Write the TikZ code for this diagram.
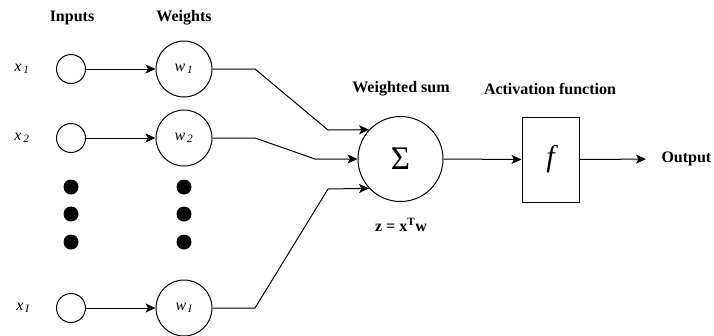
\documentclass[tikz,border=0pt]{standalone}
\usepackage{fontspec}
\setmainfont{Liberation Serif}
\usetikzlibrary{arrows.meta}
\begin{document}
\begin{tikzpicture}[x=1pt,y=1pt,
  line width=1pt,
  arr/.style={-{Stealth[length=10pt,width=9pt,inset=2.5pt]}},
  incirc/.style={circle,draw,minimum size=29pt,inner sep=0pt},
  wcirc/.style={circle,draw,minimum size=56pt,inner sep=0pt,font=\fontsize{16}{18}\selectfont\itshape},
  dotn/.style={circle,fill,minimum size=15pt,inner sep=0pt},
  head/.style={font=\fontsize{16}{18}\selectfont\bfseries,inner sep=0pt},
  xlab/.style={font=\fontsize{16}{18}\selectfont\itshape,inner sep=0pt}]
\useasboundingbox (0,0) rectangle (714,-335);
% headers
\node[head] (hin) at (72,-18) {Inputs};
\node[head] (hw) at (184,-18) {Weights};
\node[head] (hsum) at (401,-89) {Weighted sum};
\node[head] (hact) at (550,-89) {Activation function};
% input labels
\node[xlab] (l1) at (22,-69) {x\textsubscript{\,1}};
\node[xlab] (l2) at (22,-138) {x\textsubscript{\,2}};
\node[xlab] (lI) at (23,-308) {x\textsubscript{\,I}};
% inputs
\node[incirc] (in1) at (71,-69) {};
\node[incirc] (in2) at (71,-138) {};
\node[incirc] (inI) at (71,-308) {};
% weights
\node[wcirc] (w1) at (184,-69) {w\textsubscript{\,1}};
\node[wcirc] (w2) at (184,-138) {w\textsubscript{\,2}};
\node[wcirc] (wI) at (184,-308) {w\textsubscript{\,I}};
% dots
\node[dotn] (d1) at (71,-187) {};
\node[dotn] (d2) at (71,-214) {};
\node[dotn] (d3) at (71,-242) {};
\node[dotn] (e1) at (184,-187) {};
\node[dotn] (e2) at (184,-214) {};
\node[dotn] (e3) at (184,-242) {};
% sum
\node[circle,draw,minimum size=85pt,inner sep=0pt,font=\fontsize{33}{35}\selectfont] (sum) at (400.5,-159) {Σ};
\node[head] (zeq) at (401,-225) {z = x\textsuperscript{T}w};
% activation
\node[draw,minimum width=57pt,minimum height=85pt,inner sep=0pt,font=\fontsize{30}{32}\selectfont\itshape] (f) at (550.5,-159.5) {f};
\node[head,anchor=west] (out) at (661,-159) {Output};
% connectors
\draw[arr] (in1) -- (w1);
\draw[arr] (in2) -- (w2);
\draw[arr] (inI) -- (wI);
\coordinate (b1) at (255,-69);
\coordinate (c1) at (328,-130);
\coordinate (b2) at (255,-138);
\coordinate (c2) at (315,-159);
\coordinate (bI) at (255,-308);
\coordinate (cI) at (328,-189);
\draw[arr] (w1.east) -- (b1) -- (c1) -- (sum.137);
\draw[arr] (w2.east) -- (b2) -- (c2) -- (sum.west);
\draw[arr] (wI.east) -- (bI) -- (cI) -- (sum.223);
\draw[arr] (sum.east) -- (f.west);
\draw[arr,shorten >=15pt] (f.east) -- (out.west);
\end{tikzpicture}
\end{document}
